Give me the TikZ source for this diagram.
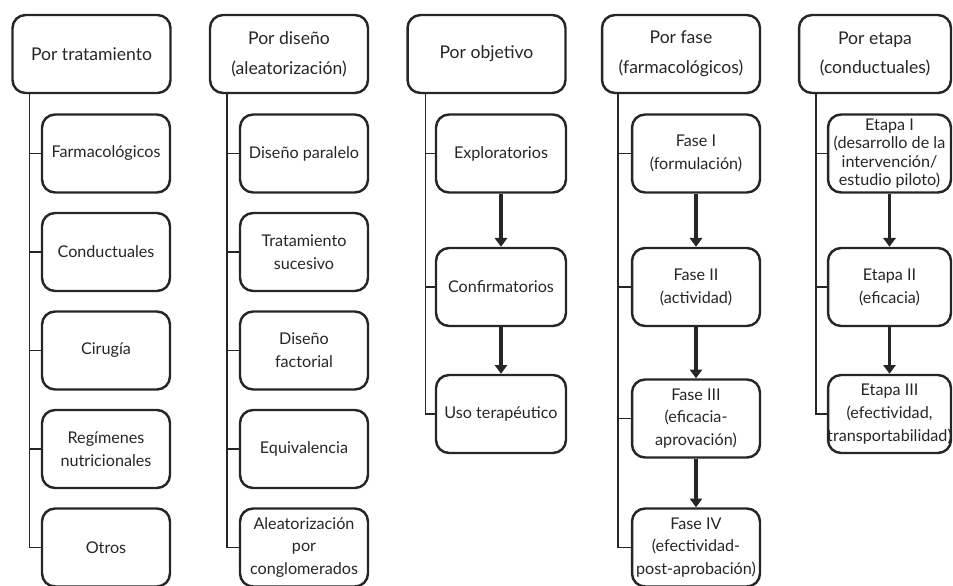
\documentclass[tikz,border=0pt]{standalone}
\usepackage{fontspec}
\setmainfont{Lato}
\usepackage{xcolor}
\usepackage{tikz}
\usetikzlibrary{calc,positioning,arrows.meta}

\definecolor{tinta}{HTML}{262626}
\tikzset{
    titulo/.style={
        draw=tinta,
        line width=1.4pt,
        rounded corners=0.26cm,
        minimum width=3.16cm,
        minimum height=1.56cm,
        align=center,
        inner sep=0pt,
        text=tinta,
        font=\fontsize{10}{17}\selectfont
    },
    caja/.style={
        titulo,
        minimum width=2.56cm,
        font=\fontsize{9.2}{13}\selectfont
    },
    tronco/.style={draw=tinta, line width=0.85pt},
    flecha/.style={draw=tinta, line width=1.8pt, -{Triangle[length=5pt,width=7pt]}}
}

\begin{document}
\begin{tikzpicture}[x=0.02cm, y=-0.02cm]
        \useasboundingbox (0,0) rectangle (953,585);

        % Por tratamiento
        \node[titulo] (trat) at (91.5,54) {Por tratamiento};
        \node[caja] (trat1) at (106,153.5) {Farmacológicos};
        \node[caja] (trat2) at (106,252) {Conductuales};
        \node[caja] (trat3) at (106,350.5) {Cirugía};
        \node[caja] (trat4) at (106,449) {Regímenes\\nutricionales};
        \node[caja] (trat5) at (106,547.5) {Otros};
        \coordinate (tr) at ($(trat.south west)+(18,0)$);
        \foreach \i in {1,...,5}
            \draw[tronco] (tr) |- (trat\i.west);

        % Por diseño
        \node[titulo] (dis) at (289,54) {Por diseño\\(aleatorización)};
        \node[caja] (dis1) at (304,153.5) {Diseño paralelo};
        \node[caja] (dis2) at (304,252) {Tratamiento\\sucesivo};
        \node[caja] (dis3) at (304,350.5) {Diseño\\factorial};
        \node[caja] (dis4) at (304,449) {Equivalencia};
        \node[caja] (dis5) at (304,547.5) {Aleatorización\\por\\conglomerados};
        \coordinate (di) at ($(dis.south west)+(18,0)$);
        \foreach \i in {1,...,5}
            \draw[tronco] (di) |- (dis\i.west);

        % Por objetivo
        \node[titulo] (obj) at (486.5,54) {Por objetivo};
        \node[caja, minimum width=2.6cm] (obj1) at (501,153.5) {Exploratorios};
        \node[caja, minimum width=2.6cm] (obj2) at (501,287) {Confirmatorios};
        \node[caja, minimum width=2.6cm] (obj3) at (501,414) {Uso terapéutico};
        \coordinate (ob) at ($(obj.south west)+(19,0)$);
        \foreach \i in {1,...,3}
            \draw[tronco] (ob) |- (obj\i.west);
        \draw[flecha] (obj1) -- (obj2);
        \draw[flecha] (obj2) -- (obj3);

        % Por fase
        \node[titulo] (fase) at (681,54) {Por fase\\(farmacológicos)};
        \node[caja] (fase1) at (696,153.5) {Fase I\\(formulación)};
        \node[caja] (fase2) at (696,287) {Fase II\\(actividad)};
        \node[caja] (fase3) at (696,418.5) {Fase III\\(eficacia-\\aprovación)};
        \node[caja] (fase4) at (696,547.5) {Fase IV\\(efectividad-\\post-aprobación)};
        \coordinate (fa) at ($(fase.south west)+(17,0)$);
        \foreach \i in {1,...,4}
            \draw[tronco] (fa) |- (fase\i.west);
        \draw[flecha] (fase1) -- (fase2);
        \draw[flecha] (fase2) -- (fase3);
        \draw[flecha] (fase3) -- (fase4);

        % Por etapa
        \node[titulo, minimum width=3.04cm] (eta) at (875,54) {Por etapa\\(conductuales)};
        \node[caja, minimum width=2.46cm, font=\fontsize{9.2}{10.4}\selectfont] (eta1) at (889.5,153.5)
            {Etapa I\\(desarrollo de la\\intervención/\\estudio piloto)};
        \node[caja, minimum width=2.46cm] (eta2) at (889.5,287) {Etapa II\\(eficacia)};
        \node[caja, minimum width=2.46cm] (eta3) at (889.5,414)
            {Etapa III\\(efectividad,\\\makebox[2.3cm]{transportabilidad)}};
        \coordinate (et) at ($(eta.south west)+(18,0)$);
        \foreach \i in {1,...,3}
            \draw[tronco] (et) |- (eta\i.west);
        \draw[flecha] (eta1) -- (eta2);
        \draw[flecha] (eta2) -- (eta3);
    \end{tikzpicture}
\end{document}
